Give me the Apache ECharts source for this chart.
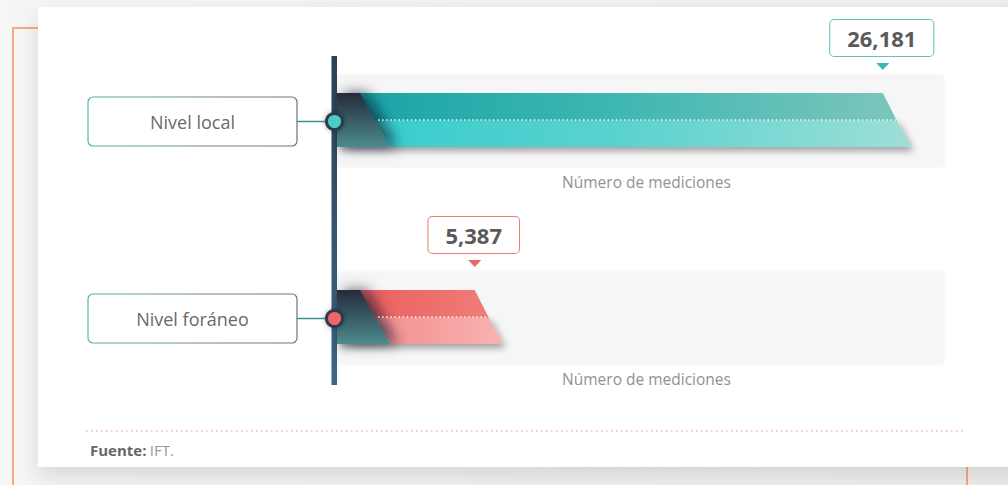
<!DOCTYPE html>
<html>
<head>
<meta charset="utf-8">
<script src="https://cdn.jsdelivr.net/npm/echarts@6/dist/echarts.min.js"></script>
<style>
html, body { margin: 0; padding: 0; }
body {
    width: 1008px; height: 485px; overflow: hidden; position: relative;
    background: linear-gradient(90deg, #f6f6f4 0%, #efefed 100%);
}
.frame {
    position: absolute; left: 12px; top: 27px; width: 952px; height: 500px;
    border: 2px solid #f5aa84; border-bottom: none;
}
.card {
    position: absolute; left: 38px; top: 7px; width: 1000px; height: 460px;
    background: #fff; box-shadow: 0 9px 22px rgba(0, 0, 0, 0.13);
}
#chart { position: absolute; left: 0; top: 0; width: 1008px; height: 485px; }
</style>
</head>
<body>
<div class="frame"></div>
<div class="card"></div>
<div id="chart"></div>
<script>
// data
const categories = ['Nivel local', 'Nivel foráneo']
const values = [26181, 5387]
const axisName = 'Número de mediciones'
const sourceLabel = 'Fuente:'
const sourceText = 'IFT.'
const xMax = 29300

// per-row colours
const palette = [
    {
        top: ['#16a3a6', '#3fb7b2', '#7cc6bc'],
        bottom: ['#33cccd', '#5bd2cf', '#9ddfd7'],
        box: '#5cc4c0',
        arrow: '#3cb7b3',
        dot: '#4ecbc6'
    },
    {
        top: ['#e95a5c', '#ec6b6a', '#ef7d79'],
        bottom: ['#f28788', '#f59b9b', '#f9b3b2'],
        box: '#f07a7a',
        arrow: '#ec6668',
        dot: '#f06668'
    }
]

const fontFamily = "'Open Sans', 'Noto Sans', sans-serif"

function hGrad(stops) {
    return new echarts.graphic.LinearGradient(0, 0, 1, 0,
        stops.map((c, k) => ({ offset: k / (stops.length - 1), color: c })))
}

function renderRow(params, api) {
    const v = api.value(0)
    const i = api.value(1)
    const cs = params.coordSys
    const p = api.coord([v, i])
    const xr = p[0]
    const yc = p[1]
    const x0 = cs.x - 32
    const xEnd = cs.x + cs.width
    const top = yc - 28
    const bot = yc + 26
    const mid = (top + bot) / 2
    const slant = 28
    const c = palette[i]

    return {
        type: 'group',
        children: [
            // track
            {
                type: 'rect',
                shape: { x: x0, y: yc - 46, width: xEnd - x0, height: 92, r: 4 },
                style: { fill: '#f6f6f6', shadowBlur: 3, shadowColor: 'rgba(0,0,0,0.07)' }
            },
            // bar, lower half (carries the drop shadow)
            {
                type: 'polygon',
                shape: { points: [[x0, mid], [xr + slant / 2, mid], [xr + slant, bot], [x0, bot]] },
                style: {
                    fill: hGrad(c.bottom),
                    shadowBlur: 7, shadowOffsetX: 3, shadowOffsetY: 4,
                    shadowColor: 'rgba(0,0,0,0.35)'
                }
            },
            // bar, upper half
            {
                type: 'polygon',
                shape: { points: [[x0, top], [xr, top], [xr + slant / 2, mid + 0.5], [x0, mid + 0.5]] },
                style: { fill: hGrad(c.top) }
            },
            // dark slanted cap at the start
            {
                type: 'polygon',
                shape: { points: [[x0, top], [x0 + 23, top], [x0 + 53, bot], [x0, bot]] },
                style: {
                    fill: new echarts.graphic.LinearGradient(0, 0, 0, 1, [
                        { offset: 0, color: '#252a3a' },
                        { offset: 1, color: '#4c8b8f' }
                    ]),
                    shadowBlur: 14, shadowOffsetX: 7,
                    shadowColor: 'rgba(5,25,35,0.65)'
                }
            },
            // dotted centre line
            {
                type: 'line',
                shape: { x1: x0 + 41, y1: mid, x2: xr + slant / 2 - 1, y2: mid },
                style: { stroke: 'rgba(255,255,255,0.95)', lineWidth: 1.5, lineDash: [1.5, 2.6] }
            },
            // value pointer
            {
                type: 'polygon',
                shape: { points: [[xr - 6.5, top - 30], [xr + 6.5, top - 30], [xr, top - 23]] },
                style: { fill: c.arrow }
            },
            // value box
            {
                type: 'text',
                style: {
                    text: v.toLocaleString('en-US'),
                    x: xr - 1, y: top - 55,
                    align: 'center', verticalAlign: 'middle',
                    fontFamily: fontFamily, fontWeight: 'bold', fontSize: 22,
                    lineHeight: 26,
                    fill: '#5a5a5a',
                    backgroundColor: '#fff',
                    borderColor: c.box, borderWidth: 1, borderRadius: 4,
                    padding: [5, 17, 5, 17]
                }
            },
            // axis caption
            {
                type: 'text',
                style: {
                    text: axisName,
                    x: (x0 + xEnd) / 2 + 6, y: yc + 61,
                    align: 'center', verticalAlign: 'middle',
                    fontFamily: fontFamily, fontSize: 15.5, fill: '#929292'
                }
            },
            // connector
            {
                type: 'line',
                shape: { x1: x0 - 40, y1: yc + 0.5, x2: x0 - 4, y2: yc + 0.5 },
                style: { stroke: '#3f9593', lineWidth: 1.5 }
            },
            // category box
            {
                type: 'rect',
                shape: { x: x0 - 249, y: yc - 24, width: 209, height: 49, r: 5 },
                style: {
                    fill: '#fff',
                    stroke: hGrad(['#55b3ad', '#6f8c90', '#6e7280']),
                    lineWidth: 1.2
                }
            },
            {
                type: 'text',
                style: {
                    text: categories[i],
                    x: x0 - 144.5, y: yc + 1,
                    align: 'center', verticalAlign: 'middle',
                    fontFamily: fontFamily, fontSize: 18, fill: '#6a6a6a'
                }
            },
            // node on the spine
            {
                type: 'circle',
                shape: { cx: x0 - 2.5, cy: yc + 0.5, r: 8 },
                style: {
                    fill: c.dot, stroke: '#2b3b4e', lineWidth: 3,
                    shadowBlur: 5, shadowColor: 'rgba(0,0,0,0.35)'
                }
            }
        ]
    }
}

const chart = echarts.init(document.getElementById('chart'), null, { renderer: 'svg' })

chart.setOption({
    animation: false,
    grid: { left: 369, right: 64, top: 22.5, bottom: 68.5 },
    xAxis: { type: 'value', min: 0, max: xMax, show: false },
    yAxis: { type: 'category', data: categories, inverse: true, show: false },
    graphic: [
        {
            type: 'rect', z: 1,
            shape: { x: 331.5, y: 56, width: 5.5, height: 329 },
            style: {
                fill: new echarts.graphic.LinearGradient(0, 0, 0, 1, [
                    { offset: 0, color: '#2b4055' },
                    { offset: 1, color: '#3e6685' }
                ])
            }
        },
        {
            type: 'line', z: 1,
            shape: { x1: 86, y1: 431, x2: 965, y2: 431 },
            style: { stroke: '#f5b3b3', lineWidth: 1.5, lineDash: [1.5, 3.5] }
        },
        {
            type: 'text', z: 1,
            style: {
                text: '{b|' + sourceLabel + '} {r|' + sourceText + '}',
                x: 90, y: 450, verticalAlign: 'middle',
                rich: {
                    b: { fontFamily: fontFamily, fontWeight: 'bold', fontSize: 15, fill: '#666' },
                    r: { fontFamily: fontFamily, fontSize: 15, fill: '#999' }
                }
            }
        }
    ],
    series: [{
        type: 'custom',
        renderItem: renderRow,
        encode: { x: 0, y: 1 },
        data: values.map((v, i) => [v, i])
    }]
})
</script>
</body>
</html>
